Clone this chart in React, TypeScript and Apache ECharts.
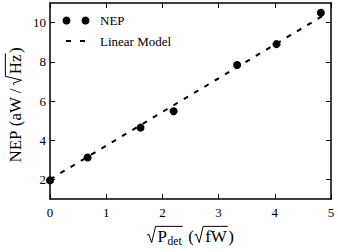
import React, { useEffect, useRef } from "react";
import * as echarts from "echarts";

const nepX = [0, 0.67, 1.61, 2.2, 3.33, 4.03, 4.82];
const nepY = [1.95, 3.12, 4.64, 5.48, 7.84, 8.9, 10.5];
const modelX = [0, 4.85];
const modelY = [2.0, 10.34];
const xTicks = [0, 1, 2, 3, 4, 5];
const yTicks = [2, 4, 6, 8, 10];
const legendNames = ["NEP", "Linear Model"];

const FONT = "Liberation Serif";

type Piece = { t?: string; size?: number; dy?: number; rad?: Piece[]; gap?: number };

let ctx: CanvasRenderingContext2D | null = null;
function measure(text: string, size: number) {
  if (!ctx) ctx = document.createElement("canvas").getContext("2d");
  if (!ctx) return text.length * size * 0.5;
  ctx.font = `${size}px "${FONT}"`;
  return ctx.measureText(text).width;
}

function layout(pieces: Piece[], s: number, x0: number, out: any[]): number {
  let x = x0;
  for (const p of pieces) {
    if (p.gap) {
      x += p.gap * s;
    } else if (p.rad) {
      const rw = 0.62 * s;
      const start = x;
      const end = layout(p.rad, s, x + rw, out);
      out.push({
        type: "polyline",
        shape: {
          points: [
            [start, -0.4 * s],
            [start + 0.1 * s, -0.46 * s],
            [start + 0.27 * s, 0.03 * s],
            [start + 0.5 * s, -0.92 * s],
            [end + 0.06 * s, -0.92 * s],
          ],
        },
        style: { stroke: "#000", lineWidth: 1, fill: null },
      });
      x = end + 0.08 * s;
    } else {
      const size = p.size || s;
      const dy = p.dy || 0;
      out.push({
        type: "text",
        x,
        y: dy - 0.34 * size,
        style: {
          text: p.t,
          fontFamily: FONT,
          fontSize: size,
          fill: "#000",
          align: "left",
          verticalAlign: "middle",
        },
      });
      x += measure(p.t || "", size);
    }
  }
  return x;
}

function buildLabel(pieces: Piece[], s: number, cx: number, cy: number, rotation: number) {
  const children: any[] = [];
  const w = layout(pieces, s, 0, children);
  children.forEach((c) => {
    if (c.type === "text") c.x -= w / 2;
    else c.shape.points = c.shape.points.map((pt: number[]) => [pt[0] - w / 2, pt[1]]);
  });
  return { type: "group", x: cx, y: cy, rotation, children };
}

export default function App() {
  const ref = useRef<HTMLDivElement>(null);
  useEffect(() => {
    if (!ref.current) return;
    const chart = echarts.init(ref.current, null, { renderer: "svg" });
    const S = 17;
    const xLabel = buildLabel(
      [
        { rad: [{ t: "P", size: S }, { gap: 0.03 }, { t: "det", size: S * 0.68, dy: S * 0.2 }] },
        { gap: 0.3 },
        { t: "(", size: S },
        { gap: 0.05 },
        { rad: [{ t: "fW", size: S }] },
        { t: ")", size: S },
      ],
      S,
      190.5,
      242,
      0
    );
    const yLabel = buildLabel(
      [
        { t: "NEP", size: S },
        { gap: 0.25 },
        { t: "(aW", size: S },
        { gap: 0.22 },
        { t: "/", size: S },
        { gap: 0.22 },
        { rad: [{ t: "Hz", size: S }] },
        { t: ")", size: S },
      ],
      S,
      21,
      105,
      Math.PI / 2
    );
    const axisCommon = {
      axisLine: { show: true, onZero: false, lineStyle: { color: "#000", width: 1.5 } },
      splitLine: { show: false },
    };
    const tick = { show: true, inside: true, length: 5, lineStyle: { color: "#000", width: 1 } };
    chart.setOption({
      animation: false,
      grid: { left: 50, right: 7, top: 3, bottom: 53 },
      xAxis: [
        {
          type: "value",
          min: 0,
          max: 5,
          interval: 1,
          position: "bottom",
          ...axisCommon,
          axisTick: { ...tick, customValues: xTicks },
          axisLabel: { customValues: xTicks, color: "#000", fontFamily: FONT, fontSize: 13, margin: 7 },
        },
        {
          type: "value",
          min: 0,
          max: 5,
          interval: 1,
          position: "top",
          ...axisCommon,
          axisTick: { ...tick, customValues: xTicks },
          axisLabel: { show: false },
        },
      ],
      yAxis: [
        {
          type: "value",
          min: 1,
          max: 11,
          position: "left",
          ...axisCommon,
          axisTick: { ...tick, customValues: yTicks },
          axisLabel: { customValues: yTicks, color: "#000", fontFamily: FONT, fontSize: 13, margin: 4 },
        },
        {
          type: "value",
          min: 1,
          max: 11,
          position: "right",
          ...axisCommon,
          axisTick: { ...tick, customValues: yTicks },
          axisLabel: { show: false },
        },
      ],
      series: [
        {
          name: legendNames[1],
          type: "line",
          data: modelX.map((x, i) => [x, modelY[i]]),
          showSymbol: false,
          symbol: "none",
          lineStyle: { color: "#000", width: 2, type: [5, 7] },
          z: 2,
        },
        {
          name: legendNames[0],
          type: "scatter",
          data: nepX.map((x, i) => [x, nepY[i]]),
          symbol: "circle",
          symbolSize: 8,
          itemStyle: { color: "#000", opacity: 1 },
          z: 3,
        },
      ],
      graphic: [
        xLabel,
        yLabel,
        { type: "circle", shape: { cx: 66.5, cy: 20.5, r: 4 }, style: { fill: "#000" } },
        { type: "circle", shape: { cx: 85.5, cy: 20.5, r: 4 }, style: { fill: "#000" } },
        { type: "line", shape: { x1: 66, y1: 41, x2: 71, y2: 41 }, style: { stroke: "#000", lineWidth: 2 } },
        { type: "line", shape: { x1: 80, y1: 41, x2: 85, y2: 41 }, style: { stroke: "#000", lineWidth: 2 } },
        {
          type: "text",
          x: 100,
          y: 20.5,
          style: { text: legendNames[0], fontFamily: FONT, fontSize: 13, fill: "#000", verticalAlign: "middle" },
        },
        {
          type: "text",
          x: 100,
          y: 41,
          style: { text: legendNames[1], fontFamily: FONT, fontSize: 13, fill: "#000", verticalAlign: "middle" },
        },
      ],
    });
    return () => chart.dispose();
  }, []);
  return <div ref={ref} style={{ width: 338, height: 252, position: "absolute", left: 0, top: 0 }} />;
}
